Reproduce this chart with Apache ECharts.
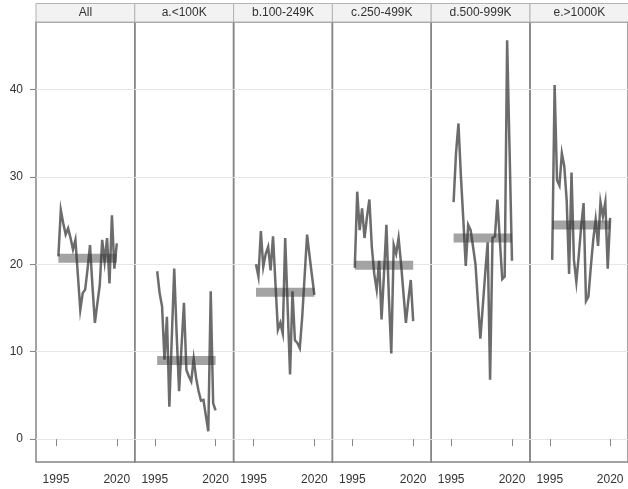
<!DOCTYPE html>
<html>
<head>
<meta charset="utf-8">
<script src="https://cdn.jsdelivr.net/npm/echarts@6/dist/echarts.min.js"></script>
<style>
  html, body { margin: 0; padding: 0; background: #fff; }
  #chart { width: 628px; height: 489px; }
</style>
</head>
<body>
<div id="chart"></div>
<script>
// Panel titles (size classes)
const panelNames = ['All', 'a.<100K', 'b.100-249K', 'c.250-499K', 'd.500-999K', 'e.>1000K'];

// Years on the x axis
const years = [1996, 1997, 1998, 1999, 2000, 2001, 2002, 2003, 2004, 2005, 2006, 2007, 2008,
               2009, 2010, 2011, 2012, 2013, 2014, 2015, 2016, 2017, 2018, 2019, 2020];

// Yearly values per class
const allVals   = [20.9, 26.2, 24.7, 23.4, 24.1, 23.0, 21.7, 22.8, 18.8, 14.8, 16.7, 17.1, 19.5,
                   22.2, 17.5, 13.3, 15.5, 17.6, 22.8, 20.3, 23.0, 17.8, 25.6, 19.5, 22.4];
const under100k = [19.2, 16.7, 15.2, 9.1, 14.0, 3.7, 11.6, 19.5, 12.0, 5.5, 10.6, 15.6, 7.9,
                   7.2, 6.6, 9.2, 7.0, 5.5, 4.4, 4.5, 2.7, 0.9, 16.9, 4.1, 3.3];
const k100to249 = [20.0, 18.6, 23.8, 19.7, 21.2, 22.0, 19.3, 23.2, 17.8, 12.5, 13.3, 12.1, 23.0,
                   15.2, 7.4, 16.9, 11.3, 11.0, 10.4, 14.0, 18.7, 23.4, 21.0, 18.7, 16.5];
const k250to499 = [19.6, 28.3, 23.9, 26.4, 23.0, 25.4, 27.4, 22.0, 18.9, 17.1, 20.4, 13.7, 18.9,
                   24.5, 16.3, 9.8, 22.2, 21.2, 23.0, 20.1, 16.7, 13.3, 15.9, 18.2, 13.5];
const k500to999 = [27.1, 32.7, 36.1, 30.1, 25.1, 19.8, 24.5, 23.9, 22.0, 20.0, 15.7, 11.5, 15.2,
                   19.0, 22.5, 6.8, 23.0, 23.2, 27.4, 22.8, 18.3, 18.6, 45.6, 33.1, 20.4];
const over1000k = [20.5, 40.5, 29.6, 29.0, 32.7, 31.2, 27.3, 18.9, 30.5, 20.5, 18.0, 21.0, 24.3,
                   27.0, 15.8, 16.3, 19.7, 22.8, 25.1, 22.1, 27.1, 25.5, 27.1, 19.5, 25.3];

// Period average per class (drawn as a band)
const averages = [20.7, 9.0, 16.8, 19.9, 23.0, 24.5];

// Axis tick labels
const xTicks = [1995, 2020];
const yTicks = [0, 10, 20, 30, 40];

const panelSeries = [allVals, under100k, k100to249, k250to499, k500to999, over1000k];

const chart = echarts.init(document.getElementById('chart'), null, { renderer: 'canvas' });

const plotLeft = 36, plotTop = 22, plotBottom = 462, panelW = 98.8;
const FONT = '"Liberation Sans", Arial, sans-serif';

const grids = [], xAxes = [], yAxes = [], series = [], graphics = [];

panelSeries.forEach((vals, i) => {
  const left = plotLeft + i * panelW;
  grids.push({
    left: left, top: plotTop, width: panelW, height: plotBottom - plotTop,
    show: true, borderColor: '#858585', borderWidth: 1.5, backgroundColor: 'transparent'
  });
  xAxes.push({
    gridIndex: i, type: 'value', min: 1986.8, max: 2027.4,
    axisLine: { show: false },
    axisTick: { show: true, length: 7, lineStyle: { color: '#858585', width: 1 }, customValues: xTicks },
    axisLabel: {
      show: true, margin: 12, color: '#333', fontSize: 12, fontFamily: FONT,
      customValues: xTicks, formatter: v => String(v)
    },
    splitLine: { show: false }
  });
  yAxes.push({
    gridIndex: i, type: 'value', min: -2.61, max: 47.7,
    axisLine: { show: false },
    axisTick: { show: i === 0, length: 6, lineStyle: { color: '#858585' }, customValues: yTicks },
    axisLabel: {
      show: i === 0, margin: 13, color: '#333', fontSize: 12, fontFamily: FONT,
      customValues: yTicks, formatter: v => String(v)
    },
    splitLine: { show: true, lineStyle: { color: '#e6e6e6', width: 1 } }
  });
  // average band across the data period
  series.push({
    type: 'line', xAxisIndex: i, yAxisIndex: i, symbol: 'none', silent: true, z: 2,
    data: [[years[0], averages[i]], [years[years.length - 1], averages[i]]],
    lineStyle: { color: '#a3a3a3', width: 9, cap: 'butt' }
  });
  // yearly values
  series.push({
    type: 'line', xAxisIndex: i, yAxisIndex: i, symbol: 'none', silent: true, z: 3,
    data: years.map((y, k) => [y, vals[k]]),
    lineStyle: { color: 'rgba(51,51,51,0.72)', width: 2.5, join: 'miter' }
  });
  // header strip with the class name
  graphics.push({
    type: 'rect', silent: true,
    shape: { x: left, y: 3.5, width: panelW, height: plotTop - 3.5 },
    style: { fill: '#f2f2f2', stroke: '#b3b3b3', lineWidth: 1 }
  });
  graphics.push({
    type: 'text', silent: true,
    x: left + panelW / 2, y: 12.5,
    style: { text: panelNames[i], fill: '#333', font: '12px ' + FONT, textAlign: 'center', textVerticalAlign: 'middle' }
  });
});

chart.setOption({
  animation: false,
  backgroundColor: '#ffffff',
  grid: grids,
  xAxis: xAxes,
  yAxis: yAxes,
  series: series,
  graphic: graphics
});
</script>
</body>
</html>
